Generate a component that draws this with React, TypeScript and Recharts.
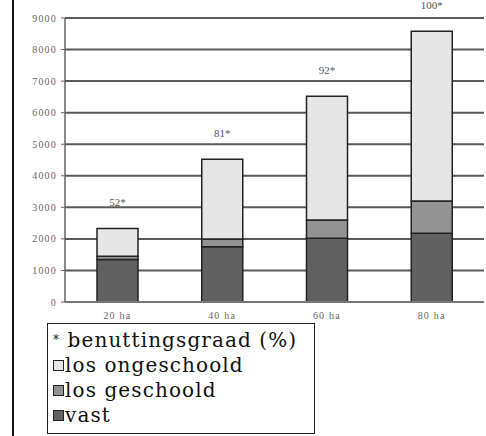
import { BarChart, Bar, XAxis, YAxis, CartesianGrid, LabelList } from "recharts";

const farmSizes = ["20 ha", "40 ha", "60 ha", "80 ha"];
const vast = [1350, 1750, 2020, 2180];
const losGeschoold = [100, 250, 580, 1020];
const losOngeschoold = [880, 2520, 3920, 5380];
const usageRate = [52, 81, 92, 100];
const yTicks = [0, 1000, 2000, 3000, 4000, 5000, 6000, 7000, 8000, 9000];

const data = farmSizes.map((size, i) => ({
  size,
  vast: vast[i],
  geschoold: losGeschoold[i],
  ongeschoold: losOngeschoold[i],
  usage: usageRate[i],
}));

const legendItems = [
  { label: "los ongeschoold", color: "#e6e6e6" },
  { label: "los geschoold", color: "#939393" },
  { label: "vast", color: "#616161" },
];

const tickStyle = { fontFamily: "Liberation Serif", fontSize: 10, fill: "#666", letterSpacing: 1.2 };

const UsageLabel = (props: any) => {
  const { x, y, width, value } = props;
  return (
    <text
      x={x + width / 2}
      y={y - 22}
      textAnchor="middle"
      fontFamily="Liberation Serif"
      fontSize={11}
      fill="#555"
    >
      {value}*
    </text>
  );
};

export default function App() {
  return (
    <div style={{ position: "absolute", left: 0, top: 0, width: 486, height: 436, background: "#fff" }}>
      <div style={{ position: "absolute", left: 12, top: 0, width: 2, height: 436, background: "#111" }} />
      <BarChart
        width={486}
        height={436}
        data={data}
        margin={{ top: 18, right: 2, left: 15, bottom: 114 }}
        barSize={41}
      >
        <CartesianGrid vertical={false} stroke="#5a5a5a" strokeWidth={2} />
        <XAxis
          dataKey="size"
          height={20}
          axisLine={{ stroke: "#777", strokeWidth: 2 }}
          tickLine={false}
          tick={tickStyle}
          tickMargin={4}
        />
        <YAxis
          width={50}
          domain={[0, 9000]}
          ticks={yTicks}
          interval={0}
          axisLine={{ stroke: "#666", strokeWidth: 1.5 }}
          tickLine={{ stroke: "#666" }}
          tickSize={4}
          tickMargin={4}
          tick={tickStyle}
        />
        <YAxis
          yAxisId="frame"
          orientation="right"
          width={0}
          tick={false}
          tickLine={false}
          axisLine={{ stroke: "#666", strokeWidth: 2 }}
        />
        <Bar dataKey="vast" stackId="a" fill="#616161" stroke="#222" strokeWidth={1.5} isAnimationActive={false} />
        <Bar dataKey="geschoold" stackId="a" fill="#939393" stroke="#222" strokeWidth={1.5} isAnimationActive={false} />
        <Bar dataKey="ongeschoold" stackId="a" fill="#e6e6e6" stroke="#222" strokeWidth={1.5} isAnimationActive={false}>
          <LabelList dataKey="usage" content={UsageLabel} />
        </Bar>
      </BarChart>
      <div
        style={{
          position: "absolute",
          left: 47,
          top: 323,
          width: 268,
          height: 111,
          border: "1.5px solid #222",
          fontFamily: "DejaVu Serif",
          fontSize: 20,
          letterSpacing: 1.1,
          color: "#111",
          paddingLeft: 5,
          paddingTop: 4,
          boxSizing: "border-box",
          lineHeight: "25px",
        }}
      >
        <div>
          <span style={{ fontSize: 12, verticalAlign: "top" }}>*</span> benuttingsgraad (%)
        </div>
        {legendItems.map((item) => (
          <div key={item.label} style={{ display: "flex", alignItems: "center" }}>
            <span
              style={{
                display: "inline-block",
                width: 9,
                height: 9,
                background: item.color,
                border: "1.5px solid #222",
                marginRight: 1,
              }}
            />
            {item.label}
          </div>
        ))}
      </div>
    </div>
  );
}
